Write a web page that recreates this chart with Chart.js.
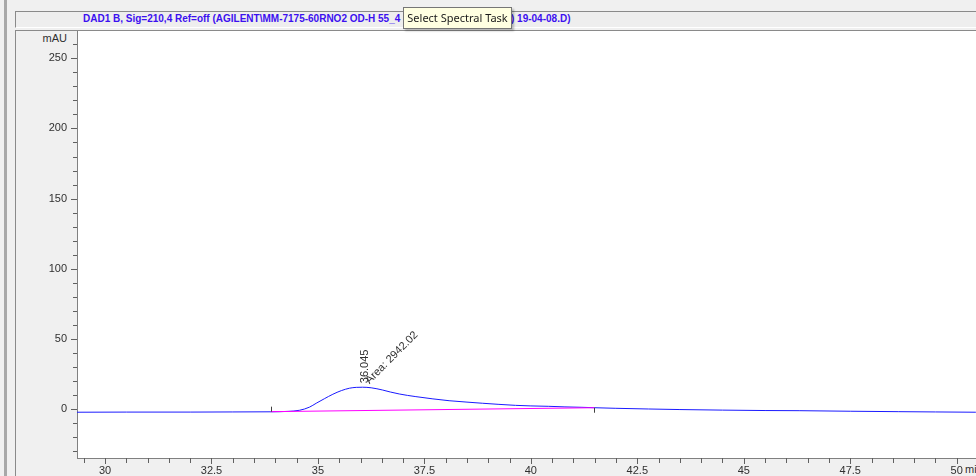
<!DOCTYPE html>
<html>
<head>
<meta charset="utf-8">
<script src="https://cdn.jsdelivr.net/npm/chart.js@4.4.1/dist/chart.umd.min.js"></script>
<style>
  html, body { margin: 0; padding: 0; }
  body { width: 976px; height: 476px; background: #f0f0f0; overflow: hidden; position: relative; font-family: "Liberation Sans", Arial, sans-serif; }
  #bar { position: absolute; left: 4px; top: 0; width: 3px; height: 476px; background: #a8a8a8; }
  #titleBox { position: absolute; left: 15px; top: 11px; width: 961px; height: 15px; background: #eeeeee;
              border-top: 1px solid #8a8a8a; border-left: 1px solid #8a8a8a; border-bottom: 1px solid #ffffff; }
  .ttl { position: absolute; top: 12px; font-size: 10px; font-weight: bold; color: #3c10f0; white-space: nowrap; line-height: 14px; }
  #panel { position: absolute; left: 15px; top: 30px; width: 961px; height: 446px; background: #f0f0f0;
           border-top: 1px solid #8a8a8a; border-left: 1px solid #8a8a8a; }
  #chartWrap { position: absolute; left: 0; top: 0; width: 976px; height: 476px; }
  .axl { position: absolute; font-size: 11px; color: #303030; line-height: 14px; white-space: nowrap; }
  #tip { position: absolute; left: 403px; top: 7px; width: 107px; height: 20px; background: #ffffe1; border: 1px solid #767676;
         box-shadow: 2px 2px 2px rgba(0,0,0,0.25); font-family: "Noto Sans", sans-serif; font-size: 11px; line-height: 20px;
         color: #1a1a1a; text-align: center; white-space: nowrap; }
</style>
</head>
<body>
<div id="bar"></div>
<div id="titleBox"></div>
<div class="ttl" style="left:83px">DAD1 B, Sig=210,4 Ref=off (AGILENT\MM-7175-60RNO2 OD-H 55_4</div>
<div class="ttl" style="left:511px">) 19-04-08.D)</div>
<div id="panel"></div>
<div class="axl" style="left:40px; top:31px; width:27px; text-align:right">mAU</div>
<div class="axl" style="left:965px; top:462px">min</div>
<div id="chartWrap"><canvas id="chart" width="976" height="476"></canvas></div>
<div id="tip">Select Spectral Task</div>

<script>
// signal (time in min, absorbance in mAU)
const sigTime = [29.34, 30.5, 32.0, 33.0, 33.9, 34.3, 34.57, 34.8, 34.96, 35.15, 35.35, 35.55, 35.74, 35.9, 36.05,
                 36.25, 36.52, 36.7, 36.91, 37.1, 37.3, 37.7, 38.08, 38.5, 38.86, 39.25, 39.64, 40.0, 40.42, 40.8,
                 41.2, 41.5, 41.98, 42.76, 43.5, 44.5, 45.5, 46.3, 47.5, 48.64, 49.5, 50.45];
const sigValue = [-2.1, -2.0, -2.0, -1.9, -1.8, -1.5, -0.7, 1.5, 4.3, 7.5, 10.7, 13.3, 15.0, 15.6, 15.7,
                  15.3, 13.7, 12.3, 10.9, 9.9, 9.0, 7.4, 6.1, 5.1, 4.3, 3.5, 2.8, 2.4, 2.1, 1.7,
                  1.4, 1.1, 0.7, 0.2, -0.2, -0.6, -0.9, -1.0, -1.4, -1.7, -1.9, -2.1];

// integration baseline
const baseTime = [33.89, 41.49];
const baseValue = [-1.7, 1.1];

// peak label
const peakTime = 36.045;
const peakHeight = 15.7;
const peakRT = '36.045';
const peakArea = 'Area: 2942.02';

// axes
const xMin = 29.342, xMax = 50.453;
const yMin = -34.7, yMax = 269.4;
const xTicks = [29.5, 30, 30.5, 31, 31.5, 32, 32.5, 33, 33.5, 34, 34.5, 35, 35.5, 36, 36.5, 37, 37.5, 38, 38.5, 39, 39.5,
                40, 40.5, 41, 41.5, 42, 42.5, 43, 43.5, 44, 44.5, 45, 45.5, 46, 46.5, 47, 47.5, 48, 48.5, 49, 49.5, 50];
const xLabels = [30, 32.5, 35, 37.5, 40, 42.5, 45, 47.5, 50];
const yTicks = [-30, -20, -10, 0, 10, 20, 30, 40, 50, 60, 70, 80, 90, 100, 110, 120, 130, 140, 150, 160, 170, 180,
                190, 200, 210, 220, 230, 240, 250, 260];
const yLabels = [0, 50, 100, 150, 200, 250];

const tickFont = { family: '"Liberation Sans", Arial, sans-serif', size: 11 };

const chromPlugin = {
    id: 'chrom',
    beforeDraw(chart) {
        const a = chart.chartArea, ctx = chart.ctx;
        ctx.save();
        ctx.fillStyle = '#ffffff';
        ctx.fillRect(a.left, a.top, a.right - a.left, a.bottom - a.top);
        ctx.restore();
    },
    afterDraw(chart) {
        const ctx = chart.ctx, xs = chart.scales.x, ys = chart.scales.y;
        const a = chart.chartArea;
        ctx.save();
        ctx.strokeStyle = '#606060';
        ctx.lineWidth = 1;
        // y tick marks
        yTicks.forEach(function(v) {
            const py = Math.round(ys.getPixelForValue(v)) + 0.5;
            const len = yLabels.includes(v) ? 6 : 4;
            ctx.beginPath();
            ctx.moveTo(a.left - len, py);
            ctx.lineTo(a.left, py);
            ctx.stroke();
        });
        // x tick marks
        xTicks.forEach(function(v) {
            const px = Math.round(xs.getPixelForValue(v)) + 0.5;
            const len = xLabels.includes(v) ? 6 : 5;
            ctx.beginPath();
            ctx.moveTo(px, a.bottom);
            ctx.lineTo(px, a.bottom + len);
            ctx.stroke();
        });
        // baseline start / end markers
        ctx.strokeStyle = '#404040';
        const bx0 = Math.round(xs.getPixelForValue(baseTime[0])) + 0.5;
        const by0 = ys.getPixelForValue(baseValue[0]);
        ctx.beginPath(); ctx.moveTo(bx0, by0); ctx.lineTo(bx0, by0 - 5); ctx.stroke();
        const bx1 = Math.round(xs.getPixelForValue(baseTime[1])) + 0.5;
        const by1 = ys.getPixelForValue(baseValue[1]);
        ctx.beginPath(); ctx.moveTo(bx1, by1); ctx.lineTo(bx1, by1 + 5); ctx.stroke();

        // peak annotations
        const px = xs.getPixelForValue(peakTime), py = ys.getPixelForValue(peakHeight);
        ctx.fillStyle = '#303030';
        ctx.font = '11px "Liberation Sans", Arial, sans-serif';
        ctx.textBaseline = 'alphabetic';
        ctx.textAlign = 'left';
        ctx.save();
        ctx.translate(px + 6, py - 4);
        ctx.rotate(-Math.PI / 2);
        ctx.fillText(peakRT, 0, 0);
        ctx.restore();
        ctx.save();
        ctx.translate(px + 7, py - 3);
        ctx.rotate(-Math.PI / 4);
        ctx.fillText(peakArea, 0, 0);
        ctx.restore();
        ctx.restore();
    }
};

const lineChart = new Chart(document.getElementById('chart').getContext('2d'), {
    type: 'line',
    data: {
        datasets: [
            {
                label: 'baseline',
                data: baseTime.map((t, i) => ({ x: t, y: baseValue[i] })),
                borderColor: '#ff00ff',
                borderWidth: 1,
                pointRadius: 0,
                order: 0
            },
            {
                label: 'DAD1 B',
                data: sigTime.map((t, i) => ({ x: t, y: sigValue[i] })),
                borderColor: '#1a1aff',
                borderWidth: 1,
                pointRadius: 0,
                cubicInterpolationMode: 'monotone',
                order: 1
            }
        ]
    },
    options: {
        responsive: false,
        animation: false,
        layout: { padding: { top: 31, left: 16, right: 0, bottom: 0 } },
        plugins: { legend: { display: false }, tooltip: { enabled: false } },
        scales: {
            x: {
                type: 'linear',
                min: xMin,
                max: xMax,
                afterFit: function(scale) { scale.height = 18; },
                afterBuildTicks: function(scale) { scale.ticks = xTicks.map(v => ({ value: v })); },
                grid: { display: false, drawTicks: false },
                border: { display: true, color: '#808080', width: 1 },
                ticks: {
                    autoSkip: false,
                    maxRotation: 0,
                    padding: 6,
                    color: '#303030',
                    font: tickFont,
                    callback: function(v) { return xLabels.includes(v) ? String(v) : ''; }
                }
            },
            y: {
                min: yMin,
                max: yMax,
                afterFit: function(scale) { scale.width = 61; },
                afterBuildTicks: function(scale) { scale.ticks = yTicks.map(v => ({ value: v })); },
                grid: { display: false, drawTicks: false },
                border: { display: true, color: '#808080', width: 1 },
                ticks: {
                    autoSkip: false,
                    padding: 10,
                    color: '#303030',
                    font: tickFont,
                    callback: function(v) { return yLabels.includes(v) ? String(v) : ''; }
                }
            }
        }
    },
    plugins: [chromPlugin]
});
</script>
</body>
</html>
